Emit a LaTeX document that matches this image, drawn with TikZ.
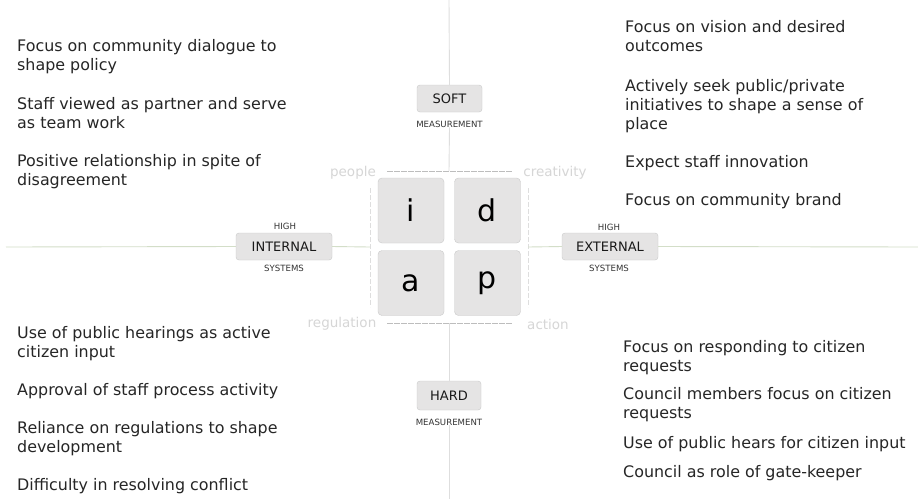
\documentclass[tikz,border=0pt]{standalone}
\usepackage{fontspec}
\setmainfont{DejaVu Sans}
\definecolor{tilefill}{HTML}{E5E4E4}
\definecolor{tileedge}{HTML}{CACACA}
\definecolor{axisgreen}{HTML}{D3DEC8}
\definecolor{axisgray}{HTML}{DEDEDE}
\definecolor{framegray}{HTML}{BDBDBD}
\definecolor{fadedtext}{HTML}{D6D6D6}
\definecolor{bodytext}{HTML}{262626}
\begin{document}
\begin{tikzpicture}[x=1pt,y=-1pt,
  % body nodes are placed at the baseline of their last line
  body/.style={anchor=base west, align=left, inner sep=0pt,
    font=\fontsize{15.9}{19}\selectfont, text=bodytext},
  tile/.style={draw=tileedge, fill=tilefill, rounded corners=4pt,
    minimum width=66pt, minimum height=65pt, inner sep=0pt,
    font=\fontsize{30}{30}\selectfont, text=black},
  tag/.style={draw=tileedge, fill=tilefill, rounded corners=3pt,
    minimum height=27pt, inner sep=0pt,
    font=\fontsize{13}{13}\selectfont, text=black!90},
  small/.style={inner sep=0pt, font=\fontsize{8.6}{8.6}\selectfont, text=black!80},
  faded/.style={inner sep=0pt, font=\fontsize{13.5}{13.5}\selectfont, text=fadedtext},
  haxis/.style={draw=axisgreen, line width=0.9pt},
  vaxis/.style={draw=axisgray, line width=0.9pt},
  frame/.style={draw=framegray, line width=0.8pt, dash pattern=on 6pt off 1pt},
  framev/.style={draw=axisgray, line width=0.8pt, dash pattern=on 5pt off 2pt}]
\useasboundingbox[fill=white] (0,0) rectangle (918,499);

% frame around the four tiles
\coordinate (ftl) at (387,171);
\coordinate (ftr) at (512,171);
\coordinate (fbl) at (387,323);
\coordinate (fbr) at (512,323);
\coordinate (flt) at (370,188);
\coordinate (flb) at (370,307);
\coordinate (frt) at (528,188);
\coordinate (frb) at (528,307);
\coordinate (ftop) at (449,171);
\coordinate (fbot) at (449,323);
\coordinate (fleft) at (370,247);
\coordinate (fright) at (528,247);
\draw[frame] (ftl) -- (ftr);
\draw[frame] (fbl) -- (fbr);
\draw[framev] (flt) -- (flb);
\draw[framev] (frt) -- (frb);

% axis ends
\coordinate (axL) at (6,247);
\coordinate (axR) at (918,247);
\coordinate (axT) at (449,0);
\coordinate (axB) at (449,499);

% quadrant tiles
\node[tile] (i) at (411,210.5) {i};
\node[tile] (d) at (487.5,210.5) {d};
\node[tile] (a) at (411,283) {a};
\node[tile] (p) at (487.5,283) {p};

% corner words
\node[faded] (people) at (353,173) {people};
\node[faded] (creativity) at (555,173) {creativity};
\node[faded] (regulation) at (342,324) {regulation};
\node[faded] (action) at (548,324) {action};

% axis tags
\node[tag, minimum width=65pt] (soft) at (449.5,98.5) {SOFT};
\node[small] (softm) at (449.5,124) {MEASUREMENT};
\node[tag, minimum width=64pt, minimum height=29pt] (hard) at (449,395.5) {HARD};
\node[small] (hardm) at (449,422) {MEASUREMENT};
\node[tag, minimum width=96pt] (int) at (284,246.5) {INTERNAL};
\node[small] (inth) at (285,226) {HIGH};
\node[small] (ints) at (284,268) {SYSTEMS};
\node[tag, minimum width=96pt] (ext) at (610,246.5) {EXTERNAL};
\node[small] (exth) at (609,227) {HIGH};
\node[small] (exts) at (609,268) {SYSTEMS};

% axes
\draw[haxis] (axL) -- (int.west);
\draw[haxis] (int.east) -- (fleft);
\draw[haxis] (fright) -- (ext.west);
\draw[haxis] (ext.east) -- (axR);
\draw[vaxis] (axT) -- (soft.north);
\draw[vaxis] (softm.south) -- (ftop);
\draw[vaxis] (fbot) -- (hard.north);
\draw[vaxis] (hardm.south) -- (axB);

% upper left
\node[body] (ul1) at (17,70) {Focus on community dialogue to\\shape policy};
\node[body] (ul2) at (17,128) {Staff viewed as partner and serve\\as team work};
\node[body] (ul3) at (17,185) {Positive relationship in spite of\\disagreement};

% upper right
\node[body] (ur1) at (625,51) {Focus on vision and desired\\outcomes};
\node[body] (ur2) at (625,129) {Actively seek public/private\\initiatives to shape a sense of\\place};
\node[body] (ur3) at (625,167) {Expect staff innovation};
\node[body] (ur4) at (625,205) {Focus on community brand};

% lower left
\node[body] (ll1) at (17,357) {Use of public hearings as active\\citizen input};
\node[body] (ll2) at (17,395) {Approval of staff process activity};
\node[body] (ll3) at (17,452) {Reliance on regulations to shape\\development};
\node[body] (ll4) at (17,490) {Difficulty in resolving conflict};

% lower right
\node[body] (lr1) at (623,371) {Focus on responding to citizen\\requests};
\node[body] (lr2) at (623,418) {Council members focus on citizen\\requests};
\node[body] (lr3) at (623,448) {Use of public hears for citizen input};
\node[body] (lr4) at (623,477) {Council as role of gate-keeper};
\end{tikzpicture}
\end{document}
